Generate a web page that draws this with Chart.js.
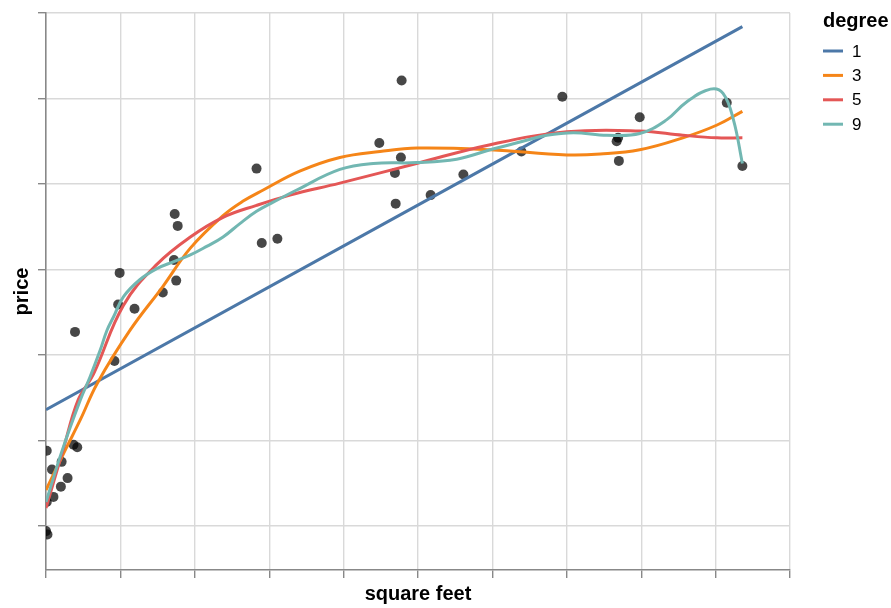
<!DOCTYPE html>
<html>
<head>
<meta charset="utf-8">
<script src="https://cdn.jsdelivr.net/npm/chart.js@4"></script>
<style>
  body { margin: 0; background: #fff; }
  #wrap { width: 891px; height: 608px; }
</style>
</head>
<body>
<div id="wrap"><canvas id="chart"></canvas></div>
<script>
// observed houses (sqft, price) in scaled units
const houseSqft = [0.01, 0.08, 0.21, 0.29, 0.20, 0.10, 0.01, 0.37, 0.42, 0.00, 0.02,
  0.39, 0.99, 0.97, 1.19, 0.92, 1.57, 1.75, 1.72, 1.73, 1.77, 2.90, 3.11, 2.83,
  4.78, 4.48, 4.77, 4.69, 4.70, 5.17, 5.61, 6.39, 6.94, 7.67, 7.69, 7.70, 7.98, 9.15, 9.36];
const housePrice = [0.88, 0.66, 0.75, 0.56, 0.46, 0.34, 0.28, 0.95, 0.92, -0.06, -0.10,
  2.27, 2.96, 2.59, 2.54, 1.93, 2.73, 2.87, 3.11, 3.65, 3.51, 3.31, 3.36, 4.18,
  5.21, 4.48, 4.31, 4.13, 3.77, 3.87, 4.11, 4.38, 5.02, 4.50, 4.54, 4.27, 4.78, 4.95, 4.21];

// fitted polynomial curves
const deg1X = [0, 9.36];
const deg1Y = [1.36, 5.84];

const deg3X = [0, 0.26, 0.46, 0.69, 1.13, 1.57, 1.94, 2.38, 2.65, 2.92, 3.41, 3.95, 4.49, 4.99, 5.97, 7.00, 7.45, 7.98, 8.56, 9.02, 9.36];
const deg3Y = [0.42, 0.89, 1.24, 1.67, 2.29, 2.80, 3.25, 3.63, 3.80, 3.93, 4.15, 4.31, 4.38, 4.42, 4.40, 4.34, 4.35, 4.40, 4.54, 4.69, 4.85];

const deg5X = [0, 0.23, 0.43, 0.64, 1.04, 1.49, 1.94, 2.38, 2.83, 3.28, 3.95, 4.98, 5.97, 7.00, 7.98, 8.56, 9.02, 9.36];
const deg5Y = [0.21, 0.89, 1.47, 1.78, 2.58, 3.06, 3.38, 3.61, 3.75, 3.87, 4.01, 4.24, 4.46, 4.61, 4.62, 4.57, 4.54, 4.54];

const deg9X = [0, 0.22, 0.46, 0.59, 0.73, 0.82, 0.91, 1.04, 1.26, 1.49, 1.71, 1.94, 2.16, 2.38, 2.61, 2.83, 3.06, 3.37,
  3.95, 4.40, 4.98, 5.52, 5.97, 6.41, 6.73, 7.09, 7.54, 7.98, 8.34, 8.61, 8.93, 9.10, 9.24, 9.36];
const deg9Y = [0.28, 0.89, 1.47, 1.74, 2.06, 2.29, 2.45, 2.68, 2.88, 3.01, 3.09, 3.17, 3.27, 3.38, 3.54, 3.68, 3.79, 3.93,
  4.17, 4.24, 4.25, 4.29, 4.40, 4.50, 4.57, 4.60, 4.57, 4.59, 4.75, 4.96, 5.11, 5.06, 4.75, 4.24];

const degrees = ['1', '3', '5', '9'];
const colors = ['#4c78a8', '#f58518', '#e45756', '#72b7b2'];
const fits = [[deg1X, deg1Y], [deg3X, deg3Y], [deg5X, deg5Y], [deg9X, deg9Y]];

const FONT = "'Liberation Sans', Arial, Helvetica, sans-serif";

const toPoints = (xs, ys) => xs.map((x, i) => ({x: x, y: ys[i]}));

const lineSets = fits.map(([xs, ys], i) => ({
  type: 'scatter',
  label: degrees[i],
  data: toPoints(xs, ys),
  showLine: true,
  borderColor: colors[i],
  backgroundColor: colors[i],
  borderWidth: 3,
  pointRadius: 0,
  tension: 0.4,
  order: 4 - i
}));

// legend on the right, built from the line datasets
const degreeLegend = {
  id: 'degreeLegend',
  afterDraw(chart) {
    const ctx = chart.ctx;
    ctx.save();
    ctx.fillStyle = '#000';
    ctx.font = `bold 20px ${FONT}`;
    ctx.textBaseline = 'alphabetic';
    ctx.textAlign = 'left';
    ctx.fillText('degree', 823, 27);
    ctx.font = `17px ${FONT}`;
    ctx.textBaseline = 'middle';
    chart.data.datasets.filter(d => d.showLine).forEach((d, i) => {
      const y = 51 + i * 24.4;
      ctx.strokeStyle = d.borderColor;
      ctx.lineWidth = 3;
      ctx.beginPath();
      ctx.moveTo(823, y);
      ctx.lineTo(843, y);
      ctx.stroke();
      ctx.fillStyle = '#000';
      ctx.fillText(d.label, 852, y + 1);
    });
    ctx.restore();
  }
};

new Chart(document.getElementById('chart'), {
  data: {
    datasets: [
      ...lineSets,
      {
        type: 'scatter',
        label: 'houses',
        data: toPoints(houseSqft, housePrice),
        pointRadius: 5,
        pointBorderWidth: 0,
        backgroundColor: 'rgba(0,0,0,0.72)',
        borderColor: 'rgba(0,0,0,0)',
        order: 5
      }
    ]
  },
  options: {
    responsive: true,
    maintainAspectRatio: false,
    animation: false,
    layout: {padding: {top: 13, right: 101, left: 0, bottom: 0}},
    plugins: {legend: {display: false}, tooltip: {enabled: false}},
    scales: {
      x: {
        type: 'linear',
        min: 0,
        max: 10,
        ticks: {display: false, stepSize: 1},
        grid: {
          color: c => c.tick && c.tick.value === 0 ? 'rgba(0,0,0,0)' : '#d9d9d9',
          tickColor: '#888',
          tickLength: 8,
          lineWidth: 1.4
        },
        border: {color: '#888', width: 1.6},
        title: {display: true, text: 'square feet', color: '#000',
          font: {family: FONT, size: 20, weight: 'bold'}, padding: {top: 0, bottom: 2}},
        afterFit(scale) { scale.height = 38; }
      },
      y: {
        type: 'linear',
        min: -0.515,
        max: 6,
        ticks: {display: false, stepSize: 1},
        afterBuildTicks(scale) {
          scale.ticks = scale.ticks.filter(t => Math.abs(t.value - Math.round(t.value)) < 1e-6);
        },
        grid: {color: '#d9d9d9', tickColor: '#888', tickLength: 8, lineWidth: 1.4},
        border: {color: '#888', width: 1.6},
        title: {display: true, text: 'price', color: '#000',
          font: {family: FONT, size: 20, weight: 'bold'}, padding: {top: 10, bottom: 0}},
        afterFit(scale) { scale.width = 46; }
      }
    }
  },
  plugins: [degreeLegend]
});
</script>
</body>
</html>
